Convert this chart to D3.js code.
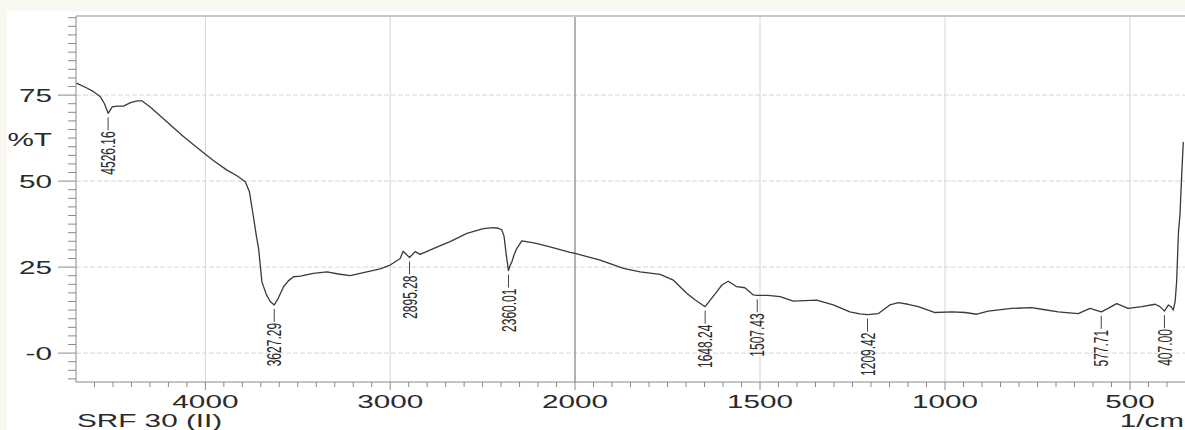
<!DOCTYPE html>
<html>
<head>
<meta charset="utf-8">
<script src="https://cdn.jsdelivr.net/npm/d3@7"></script>
<style>
  html, body { margin: 0; padding: 0; background: #f8f8f1; }
  svg { display: block; }
</style>
</head>
<body>
<div id="chart"></div>
<script>
// spectrum readout (wavenumber 1/cm, %T)
const wavenumber = [4697, 4639, 4605, 4568, 4546, 4526.16, 4504, 4476, 4443, 4405, 4369, 4342, 4297, 4207, 4119, 4027, 3957, 3883, 3827, 3784, 3762, 3741, 3724, 3712, 3694, 3670, 3649, 3627.29, 3605, 3577, 3551, 3523, 3486, 3416, 3342, 3281, 3216, 3126, 3054, 3000, 2946, 2930, 2895.28, 2865, 2838, 2757, 2676, 2585, 2496, 2442, 2416, 2396, 2384, 2373, 2360.01, 2351, 2342, 2330, 2315, 2288, 2216, 2135, 2027, 2000, 1932, 1869, 1824, 1770, 1734, 1698, 1676, 1648.24, 1617, 1603, 1586, 1573, 1563, 1541, 1518, 1507.43, 1478, 1446, 1410, 1347, 1302, 1257, 1230, 1209.42, 1180, 1149, 1126, 1100, 1072, 1027, 982, 946, 914, 883, 820, 766, 730, 694, 640, 608, 577.71, 559, 536, 505, 468, 432, 419, 407.00, 396, 389, 383, 378, 374, 369, 365, 361, 356];
const transmittance = [78.5, 77, 76, 74.5, 72.5, 69.7, 71.6, 71.8, 71.8, 72.8, 73.3, 73.3, 71.5, 67.2, 63, 59, 56, 53.2, 51.5, 49.8, 47, 40, 34, 30.4, 20.7, 17, 15, 14, 16, 19.3, 21, 22.2, 22.4, 23.2, 23.6, 23, 22.5, 23.6, 24.5, 25.6, 27.5, 29.6, 27.8, 29.5, 28.7, 30.6, 32.4, 34.8, 36.2, 36.5, 36.3, 35.8, 34, 29, 24, 25.5, 26.5, 28.5, 30.4, 32.6, 32, 30.9, 29.3, 29, 27, 24.6, 23.6, 22.9, 21.2, 17.4, 15.5, 13.5, 17.8, 19.8, 20.9, 20, 19.3, 19, 16.9, 16.8, 16.8, 16.4, 15.1, 15.4, 14, 12, 11.4, 11.2, 11.5, 14, 14.7, 14.2, 13.5, 11.8, 12, 11.8, 11.3, 12.2, 13, 13.2, 12.6, 12, 11.5, 13, 12, 13, 14.4, 13, 13.5, 14.2, 13.5, 12.2, 14, 13.5, 12.5, 15, 20.7, 35.3, 40, 50, 61.4];

const peaks = [4526.16, 3627.29, 2895.28, 2360.01, 1648.24, 1507.43, 1209.42, 577.71, 407.00];
const xTicks = [4000, 3000, 2000, 1500, 1000, 500];
const yTicks = [75, 50, 25, 0];
const yTickLabels = ["75", "50", "25", "-0"];

const W = 1185, H = 430;
const plotLeft = 76, plotTop = 16, plotBottom = 382;

const svg = d3.select("#chart").append("svg")
  .attr("width", W).attr("height", H);

// white sheet
svg.append("rect").attr("x", 7).attr("y", 11).attr("width", W).attr("height", H)
  .attr("fill", "#ffffff");

// scale changes at 2000 1/cm
const x = d3.scaleLinear().domain([4700, 2000, 350]).range([plotLeft, 575, 1185.5]);
const y = d3.scaleLinear().domain([-8.4, 98]).range([plotBottom, plotTop]);

// horizontal dotted grid
svg.append("g").selectAll("line").data(yTicks).join("line")
  .attr("x1", plotLeft).attr("x2", W)
  .attr("y1", d => y(d)).attr("y2", d => y(d))
  .attr("stroke", "#d6d6d6").attr("stroke-dasharray", "5,2");

// vertical grid
svg.append("g").selectAll("line").data(xTicks).join("line")
  .attr("x1", d => x(d)).attr("x2", d => x(d))
  .attr("y1", plotTop).attr("y2", plotBottom)
  .attr("stroke", d => d === 2000 ? "#a0a0a0" : "#d4d4d4")
  .attr("stroke-width", d => d === 2000 ? 1.6 : 1);

// frame
svg.append("line").attr("x1", plotLeft).attr("x2", W).attr("y1", plotTop).attr("y2", plotTop)
  .attr("stroke", "#c8c8c8").attr("stroke-width", 2);
svg.append("line").attr("x1", plotLeft).attr("x2", plotLeft).attr("y1", plotTop).attr("y2", plotBottom)
  .attr("stroke", "#8a8a8a");
svg.append("line").attr("x1", plotLeft).attr("x2", W).attr("y1", plotBottom).attr("y2", plotBottom)
  .attr("stroke", "#8a8a8a");

// y ticks
const yMinor = d3.range(-7.5, 98, 2.5);
svg.append("g").selectAll("line").data(yMinor).join("line")
  .attr("x1", d => yTicks.includes(d) ? plotLeft - 18 : plotLeft - 8).attr("x2", plotLeft)
  .attr("y1", d => y(d)).attr("y2", d => y(d))
  .attr("stroke", "#8a8a8a");

// x ticks: every 100 above 2000, every 50 below
const xMinor = d3.range(4600, 2000, -100).concat(d3.range(2000, 349, -50));
svg.append("g").selectAll("line").data(xMinor).join("line")
  .attr("x1", d => x(d)).attr("x2", d => x(d))
  .attr("y1", plotBottom).attr("y2", d => xTicks.includes(d) ? plotBottom + 8 : plotBottom + 5)
  .attr("stroke", "#8a8a8a");

// the whole print is stretched sideways
const stretch = "scale(1.65,1)";
const labelFont = "'Liberation Sans', Arial, sans-serif";

// y labels
svg.append("g").selectAll("text").data(yTicks).join("text")
  .attr("transform", d => `translate(52,${y(d) + 6.5}) ${stretch}`)
  .attr("text-anchor", "end")
  .attr("font-family", labelFont).attr("font-size", 18)
  .attr("fill", "#2a2a2a")
  .text((d, i) => yTickLabels[i]);

svg.append("text")
  .attr("transform", `translate(52,145.5) ${stretch}`)
  .attr("text-anchor", "end")
  .attr("font-family", labelFont).attr("font-size", 18)
  .attr("fill", "#2a2a2a").text("%T");

// x labels
svg.append("g").selectAll("text").data(xTicks).join("text")
  .attr("transform", d => `translate(${x(d)},408) ${stretch}`)
  .attr("text-anchor", "middle")
  .attr("font-family", labelFont).attr("font-size", 18)
  .attr("fill", "#2a2a2a")
  .text(d => d);

svg.append("text")
  .attr("transform", `translate(77,427) ${stretch}`)
  .attr("font-family", labelFont).attr("font-size", 18)
  .attr("fill", "#2a2a2a").text("SRF 30 (II)");

svg.append("text")
  .attr("transform", `translate(1184,427) ${stretch}`)
  .attr("text-anchor", "end")
  .attr("font-family", labelFont).attr("font-size", 18)
  .attr("fill", "#2a2a2a").text("1/cm");

// spectrum
const data = wavenumber.map((w, i) => ({w: w, t: transmittance[i]}));
svg.append("path")
  .datum(data)
  .attr("fill", "none")
  .attr("stroke", "#3a3a3a")
  .attr("stroke-width", 1.3)
  .attr("stroke-linejoin", "round")
  .attr("d", d3.line().x(d => x(d.w)).y(d => y(d.t)));

// peak markers
const peakG = svg.append("g").selectAll("g").data(peaks).join("g")
  .attr("transform", p => {
    const pt = data.find(d => d.w === p);
    return `translate(${x(p)},${y(pt.t)})`;
  });

peakG.append("line")
  .attr("x1", 0).attr("x2", 0).attr("y1", 4).attr("y2", 17)
  .attr("stroke", "#444");

peakG.append("text")
  .attr("transform", `translate(0,18) ${stretch} rotate(-90)`)
  .attr("text-anchor", "end")
  .attr("dy", "0.36em")
  .attr("font-family", labelFont)
  .attr("font-size", 12)
  .attr("fill", "#2a2a2a")
  .text(p => p.toFixed(2));
</script>
</body>
</html>
